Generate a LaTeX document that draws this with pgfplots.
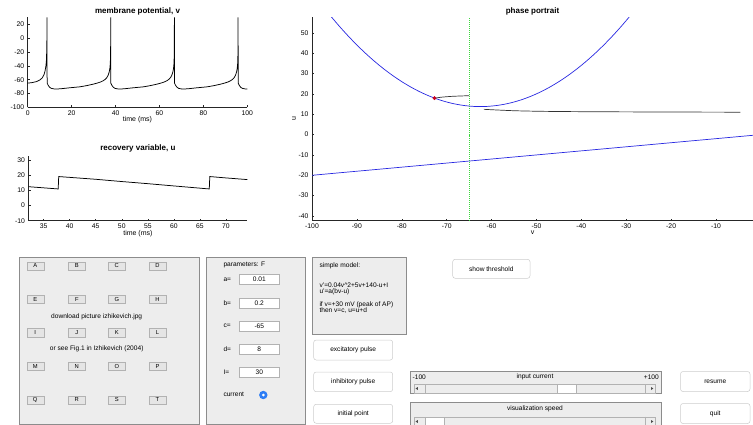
\documentclass[border=0pt]{standalone}
\usepackage{fontspec}
\setmainfont{Liberation Sans}
\usepackage{pgfplots}
\pgfplotsset{compat=1.18}
\definecolor{pfill}{gray}{0.93}
\definecolor{pborder}{gray}{0.55}
\definecolor{bfill}{gray}{0.90}
\definecolor{bborder}{gray}{0.70}
\definecolor{rborder}{gray}{0.80}
\definecolor{mblue}{RGB}{40,40,225}
\definecolor{mred}{RGB}{200,0,30}
\definecolor{radio}{RGB}{45,125,245}
\definecolor{thrgreen}{RGB}{60,215,60}
\newcommand\gf{\fontsize{6.6}{7.8}\selectfont}
\pgfplotsset{mat/.style={scale only axis, anchor=south west, axis lines=left,
  axis line style={-, draw=black!85, line width=0.5pt},
  tick align=inside, major tick length=2.2pt,
  tick style={draw=black!85, line width=0.45pt},
  ticklabel style={font=\fontsize{6.8}{8}\selectfont},
  xticklabel style={yshift=0.5pt},
  label style={font=\fontsize{7}{8}\selectfont},
  every axis title shift=0pt,
  title style={font=\bfseries\fontsize{8}{9}\selectfont, anchor=center, at={(axis description cs:0.5,1)}},
  xlabel style={anchor=center, at={(axis description cs:0.5,0)}},
  /pgf/number format/assume math mode=true,
  clip=true}}
\begin{document}
\begin{tikzpicture}
% ---------------- membrane potential
\begin{axis}[mat, width=219.6pt, height=90.1pt, at={(27.7pt,-107.4pt)},
  xmin=0, xmax=100, ymin=-100, ymax=30,
  xtick={0,20,40,60,80,100}, ytick={-100,-80,-60,-40,-20,0,20},
  title={membrane potential, v}, title style={yshift=6.2pt},
  xlabel={time (ms)}, xlabel style={yshift=-11.8pt}]
\addplot[black, line width=0.75pt] coordinates {
(0,-65.0) (2,-64.2) (4,-62.8) (5.6,-60.3) (6.6,-57.5) (7.4,-53.0) (7.9,-47.5) (8.3,-40) (8.5,-33) (8.65,-20) (8.75,0) (8.8,30)
(8.85,-65) (9.4,-68.5) (10,-71) (10.8,-72.6) (12.3,-73.5) (14.8,-73.2) (18.8,-71.8) (23.8,-70.3) (26.8,-68.6) (29.8,-66.5) (31.8,-64.8) (33.3,-63.2) (34.4,-61.5) (35.3,-59.5) (36,-57.2) (36.6,-53.8) (37.1,-49) (37.4,-44) (37.6,-37) (37.7,-28) (37.77,-10) (37.8,30)
(37.85,-65) (38.4,-68.5) (39,-71) (39.8,-72.6) (41.3,-73.5) (43.8,-73.2) (47.8,-71.8) (52.8,-70.3) (55.8,-68.6) (58.8,-66.5) (60.8,-64.8) (62.3,-63.2) (63.4,-61.5) (64.3,-59.5) (65,-57.2) (65.6,-53.8) (66.1,-49) (66.4,-44) (66.6,-37) (66.7,-28) (66.77,-10) (66.8,30)
(66.85,-65) (67.4,-68.5) (68,-71) (68.8,-72.6) (70.3,-73.5) (72.8,-73.2) (76.8,-71.8) (81.8,-70.3) (84.8,-68.6) (87.8,-66.5) (89.8,-64.8) (91.3,-63.2) (92.4,-61.5) (93.3,-59.5) (94,-57.2) (94.6,-53.8) (95.1,-49) (95.4,-44) (95.6,-37) (95.7,-28) (95.77,-10) (95.8,30)
(95.85,-65) (96.4,-68.5) (97,-71) (97.8,-72.6) (99.3,-73.5) (100,-73.6)};
\end{axis}
% ---------------- recovery variable
\begin{axis}[mat, width=218.8pt, height=65pt, at={(28.5pt,-220.7pt)},
  xmin=32.1, xmax=74.1, ymin=-10, ymax=33,
  xtick={35,40,45,50,55,60,65,70}, ytick={-10,0,10,20,30},
  title={recovery variable, u}, title style={yshift=7.6pt},
  xlabel={time (ms)}, xlabel style={yshift=-13.3pt}]
\addplot[black, line width=0.75pt] coordinates {
(32.1,12.5) (37.8,11.0) (37.9,19.2) (45,17.4) (50,15.9) (55,14.5) (60,13.0) (66.8,11.0) (66.9,19.2) (70,18.3) (74.1,17.2)};
\end{axis}
% ---------------- phase portrait
\begin{axis}[mat, width=441pt, height=203.4pt, at={(312pt,-220.7pt)},
  xmin=-100, xmax=-1.76, ymin=-42.3, ymax=57.6,
  xtick={-100,-90,-80,-70,-60,-50,-40,-30,-20,-10},
  ytick={-40,-30,-20,-10,0,10,20,30,40,50},
  title={phase portrait}, title style={yshift=6pt},
  xlabel={v}, xlabel style={yshift=-11.6pt},
  ylabel={u}, ylabel style={anchor=center, at={(axis description cs:-0.0408,0.5)}}]
\addplot[draw=thrgreen, line width=0.8pt, dash pattern=on 1pt off 1pt] coordinates {(-65,-42.3) (-65,0) (-65,57.6)};
\addplot[draw=mblue, line width=0.7pt, smooth] coordinates {
(-96,58.64) (-94,53.44) (-92,48.56) (-90,44) (-88,39.76) (-86,35.84) (-84,32.24) (-82,28.96) (-80,26) (-78,23.36) (-76,21.04) (-74,19.04) (-72,17.36) (-70,16) (-68,14.96) (-66,14.24) (-64,13.84) (-62.5,13.75) (-61,13.84) (-59,14.24) (-57,14.96) (-55,16) (-53,17.36) (-51,19.04) (-49,21.04) (-47,23.36) (-45,26) (-43,28.96) (-41,32.24) (-39,35.84) (-37,39.76) (-35,44) (-33,48.56) (-31,53.44) (-29,58.64)};
\addplot[draw=mblue, line width=0.7pt] coordinates {(-100,-20) (0,0)};
\addplot[draw=black!80, line width=0.7pt, smooth] coordinates {(-65,19.1) (-67,18.95) (-69,18.75) (-71,18.4) (-72.7,17.9)};
\addplot[draw=black!80, line width=0.7pt, smooth] coordinates {(-61.7,12.4) (-59,12.1) (-56,11.8) (-53,11.6) (-48,11.4) (-40,11.25) (-30,11.15) (-15,11.05) (-4.6,11.0)};
\addplot[only marks, mark=*, mark size=1.7pt, mark options={draw=mred, fill=mred}] coordinates {(-72.7,17.9)};
\end{axis}
% ---------------- GUI
\begin{scope}[x=1pt, y=-1pt, font=\gf]
% panel 1
\draw[pborder, fill=pfill, line width=0.6pt] (19,257.3) rectangle (199,424.3);
\foreach \row/\ya/\yb/\la/\lb/\lc/\ld in {1/261.7/270.2/A/B/C/D, 2/295/303.5/E/F/G/H, 3/328.5/337/I/J/K/L, 4/362/370.5/M/N/O/P, 5/395.7/404.2/Q/R/S/T}{
  \foreach \xa/\lab in {26.7/\la, 68.3/\lb, 108.3/\lc, 149/\ld}{
    \draw[bborder, fill=bfill, line width=0.4pt] (\xa,\ya) rectangle ({\xa+17},\yb);
    \node[font=\fontsize{5.8}{6}\selectfont, inner sep=0pt] at ({\xa+8.5},{(\ya+\yb)/2}) {\lab};
  }
}
\node[inner sep=0pt] at (96.7,316.7) {download picture izhikevich.jpg};
\node[inner sep=0pt] at (96.7,349) {or see Fig.1 in Izhikevich (2004)};
% panel 2
\draw[pborder, fill=pfill, line width=0.6pt] (206.7,257.3) rectangle (305,424.3);
\node[inner sep=0pt, anchor=west] at (223.3,265) {parameters: F};
\foreach \yc/\lab/\val in {279.3/a=/0.01, 303/b=/0.2, 325.8/c=/-65, 349.2/d=/8, 372.2/I=/30}{
  \node[inner sep=0pt, anchor=west] at (223.3,\yc) {\lab};
  \draw[bborder, fill=white, line width=0.4pt] (239.3,{\yc-5}) rectangle (279.3,{\yc+5});
  \node[inner sep=0pt] at (259.3,\yc) {\val};
}
\node[inner sep=0pt, anchor=west] at (223.3,394) {current};
\fill[radio] (263.3,395) circle (4.2pt);
\fill[white] (263.3,395) circle (1.5pt);
% panel 3
\draw[pborder, fill=pfill, line width=0.6pt] (312.3,257.3) rectangle (406,334.3);
\node[inner sep=0pt, anchor=west] at (319.3,265.5) {simple model:};
\node[inner sep=0pt, anchor=west] at (319.3,285) {v'=0.04v\^{}2+5v+140-u+I};
\node[inner sep=0pt, anchor=west] at (319.3,291.5) {u'=a(bv-u)};
\node[inner sep=0pt, anchor=west] at (319.3,304.5) {if v=+30 mV (peak of AP)};
\node[inner sep=0pt, anchor=west] at (319.3,311) {then v=c, u=u+d};
% rounded buttons
\foreach \xa/\ya/\xb/\yb/\lab in {313.7/340/392.7/360/excitatory pulse, 313.7/372/392.7/391.7/inhibitory pulse, 313.7/404.3/392.7/423.3/initial point, 452.7/259.3/530/278.3/show threshold, 680.5/371.5/750/391.5/resume, 680.5/403.5/750/423.5/quit}{
  \draw[rborder, fill=white, line width=0.5pt, rounded corners=2.5pt] (\xa,\ya) rectangle (\xb,\yb);
  \node[inner sep=0pt] at ({(\xa+\xb)/2},{(\ya+\yb)/2}) {\lab};
}
% slider 1
\draw[pborder, fill=pfill, line width=0.6pt] (410,371) rectangle (661.7,393.3);
\node[inner sep=0pt, anchor=west] at (412.5,377) {-100};
\node[inner sep=0pt] at (535,377) {input current};
\node[inner sep=0pt, anchor=east] at (659,377) {+100};
\draw[bborder, line width=0.4pt] (414,384) rectangle (655,393);
\draw[bborder, line width=0.4pt] (425,384) -- (425,393) (645,384) -- (645,393);
\draw[bborder, fill=white, line width=0.4pt] (556.7,384) rectangle (576,393);
\fill[black!70] (415.5,388.5) -- (417.8,387) -- (417.8,390) -- cycle;
\fill[black!70] (653.3,388.5) -- (651,387) -- (651,390) -- cycle;
% slider 2
\draw[pborder, fill=pfill, line width=0.6pt] (410,402.7) rectangle (661.7,427);
\node[inner sep=0pt] at (535,409) {visualization speed};
\draw[bborder, line width=0.4pt] (414,416.7) rectangle (655,427);
\draw[bborder, line width=0.4pt] (645,416.7) -- (645,427);
\draw[bborder, fill=white, line width=0.4pt] (425,416.7) rectangle (444,427);
\fill[black!70] (415.5,421.5) -- (417.8,420) -- (417.8,423) -- cycle;
\fill[black!70] (653.3,421.5) -- (651,420) -- (651,423) -- cycle;
\end{scope}
\pgfresetboundingbox
\path[use as bounding box] (0pt,0pt) rectangle (753pt,-425pt);
\end{tikzpicture}
\end{document}
